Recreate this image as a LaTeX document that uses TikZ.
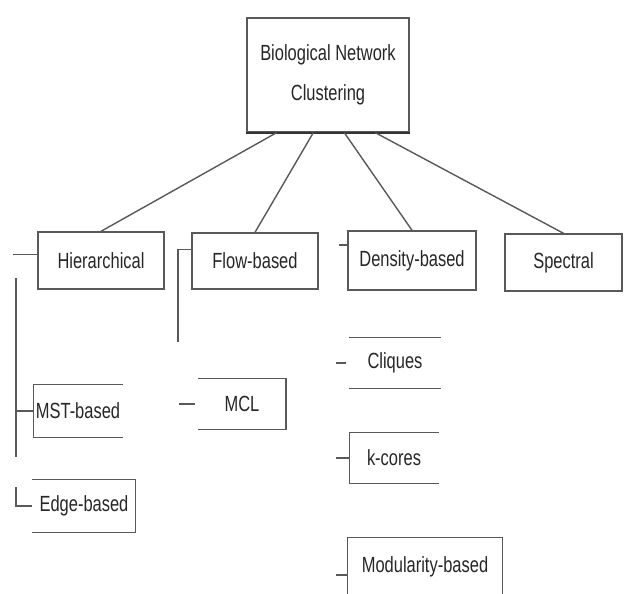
\documentclass[tikz,border=0pt]{standalone}
\usepackage{fontspec}
\setmainfont{Liberation Sans}[FakeStretch=0.75]
\usetikzlibrary{calc}

\begin{document}
\begin{tikzpicture}[x=0.02cm,y=-0.02cm, line width=0.8pt, color=black!65,
  every node/.style={font=\fontsize{12.5}{21}\selectfont, text=black!85, inner sep=0pt},
  box/.style={draw}]
  \useasboundingbox (0,0) rectangle (624,593);
  % top box
  \node[box, minimum width=3.24cm, minimum height=2.28cm, align=center,
        font=\fontsize{12.5}{23}\selectfont] (root) at (328,75) {Biological Network\\Clustering};
  \draw[line width=1.2pt, black!80] (root.south west) -- (root.south east);
  % first level
  \node[box, minimum width=2.52cm, minimum height=1.14cm] (hier) at (101,260.5) {Hierarchical};
  \node[box, minimum width=2.52cm, minimum height=1.12cm] (flow) at (255,261)   {Flow-based};
  \node[box, minimum width=2.56cm, minimum height=1.18cm] (dens) at (412,260.5) {Density-based};
  \node[box, minimum width=2.34cm, minimum height=1.14cm] (spec) at (563.5,262.5) {Spectral};
  % second level, open boxes
  \node[minimum width=1.76cm, minimum height=1.04cm] (mst)   at (78,411)  {MST-based};
  \node[minimum width=2.04cm, minimum height=1.04cm] (edgeb) at (84,506)  {Edge-based};
  \node[minimum width=1.74cm, minimum height=1.00cm] (mcl)   at (242,404) {MCL};
  \node[minimum width=1.80cm, minimum height=1.00cm] (cliq)  at (395,363) {Cliques};
  \node[minimum width=1.76cm, minimum height=1.00cm] (kcor)  at (394,458) {k-cores};
  \node[minimum width=3.08cm, minimum height=1.16cm] (modu)  at (425,567) {Modularity-based};
  \draw (mst.north east) -- (mst.north west) -- (mst.south west) -- (mst.south east);
  \draw (edgeb.north west) -- (edgeb.north east) -- (edgeb.south east) -- (edgeb.south west);
  \draw (mcl.north west) -- (mcl.north east) -- (mcl.south east) -- (mcl.south west);
  \draw (cliq.north west) -- (cliq.north east);
  \draw (cliq.south west) -- (cliq.south east);
  \draw (kcor.north east) -- (kcor.north west) -- (kcor.south west) -- (kcor.south east);
  \draw (modu.south west) -- (modu.north west) -- (modu.north east) -- (modu.south east);

  % links from the top box
  \draw ($(root.south west)!0.185!(root.south east)$) -- (hier.north);
  \draw ($(root.south west)!0.41!(root.south east)$)  -- (flow.north);
  \draw ($(root.south west)!0.6!(root.south east)$)   -- (dens.north);
  \draw ($(root.south west)!0.79!(root.south east)$)  -- (spec.north);

  % hierarchical branch
  \coordinate (htop) at (16,278);
  \coordinate (hend) at (16,457);
  \coordinate (ebend) at (16,487);
  \draw ($(hier.north west)!0.4!(hier.south west)$) -- ++(-24,0);
  \draw (htop) -- (hend);
  \draw (mst.west) -- (mst.west -| htop);
  \draw (ebend) |- (edgeb.west);
  % flow branch
  \coordinate (fend) at (178,342);
  \draw ($(flow.north west)!0.3!(flow.south west)$) -| (fend);
  \draw ($(mcl.west)+(-3,0)$) -- ++(-16,0);
  % density branch
  \draw ($(dens.north west)!0.24!(dens.south west)$) -- ++(-8,0);
  \draw ($(cliq.west)+(-3,0)$) -- ++(-10,0);
  \draw (kcor.west) -- ++(-13,0);
  \draw ($(modu.west)+(0,8)$) -- ++(-11,0);
\end{tikzpicture}
\end{document}
